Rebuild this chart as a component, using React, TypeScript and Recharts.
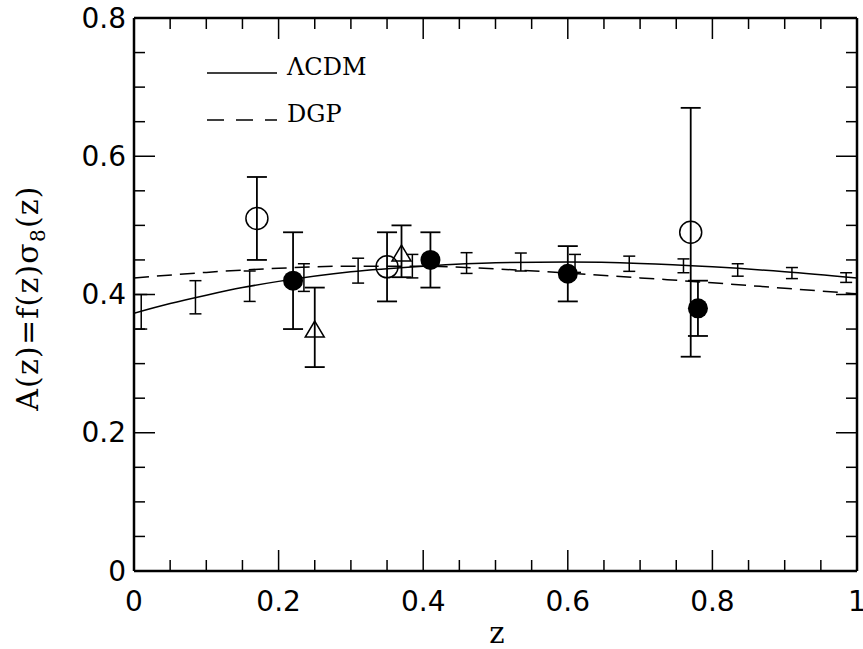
import React from 'react'
import { ComposedChart, Line, Scatter, ErrorBar, XAxis, YAxis } from 'recharts'

// 刻度
const xTicks = [0, 0.05, 0.1, 0.15, 0.2, 0.25, 0.3, 0.35, 0.4, 0.45, 0.5, 0.55, 0.6, 0.65, 0.7, 0.75, 0.8, 0.85, 0.9, 0.95, 1]
const yTicks = [0, 0.05, 0.1, 0.15, 0.2, 0.25, 0.3, 0.35, 0.4, 0.45, 0.5, 0.55, 0.6, 0.65, 0.7, 0.75, 0.8]

// model curves
const lcdmZ = [0, 0.05, 0.1, 0.15, 0.2, 0.3, 0.4, 0.5, 0.6, 0.7, 0.8, 0.9, 1.0]
const lcdmA = [0.373, 0.387, 0.399, 0.41, 0.419, 0.433, 0.441, 0.446, 0.447, 0.445, 0.44, 0.433, 0.424]
const dgpZ = [0, 0.1, 0.2, 0.3, 0.4, 0.5, 0.6, 0.7, 0.8, 0.9, 1.0]
const dgpA = [0.424, 0.432, 0.438, 0.441, 0.441, 0.437, 0.431, 0.424, 0.417, 0.409, 0.401]

// filled circles
const filledZ = [0.22, 0.41, 0.6, 0.78]
const filledA = [0.42, 0.45, 0.43, 0.38]
const filledLo = [0.35, 0.41, 0.39, 0.34]
const filledHi = [0.49, 0.49, 0.47, 0.42]

// open circles
const openZ = [0.17, 0.35, 0.77]
const openA = [0.51, 0.44, 0.49]
const openLo = [0.45, 0.39, 0.31]
const openHi = [0.57, 0.49, 0.67]

// triangles
const triZ = [0.25, 0.37]
const triA = [0.35, 0.46]
const triLo = [0.295, 0.425]
const triHi = [0.41, 0.5]

// forecast error bars along ΛCDM
const fcZ = [0.01, 0.085, 0.16, 0.235, 0.31, 0.385, 0.46, 0.535, 0.61, 0.685, 0.76, 0.835, 0.91, 0.985]
const fcA = [0.375, 0.396, 0.412, 0.4245, 0.4345, 0.441, 0.4455, 0.447, 0.445, 0.4445, 0.4415, 0.4355, 0.431, 0.4245]
const fcErr = [0.025, 0.024, 0.022, 0.02, 0.018, 0.017, 0.015, 0.013, 0.013, 0.011, 0.01, 0.009, 0.008, 0.007]

// legend
const legendNames = ['ΛCDM', 'DGP']
const legendDash = [undefined, '17 12']

const curve = (z: number[], a: number[]) => z.map((v, i) => ({ z: v, a: a[i] }))
const pts = (z: number[], a: number[], lo: number[], hi: number[]) =>
  z.map((v, i) => ({ z: v, a: a[i], err: [a[i] - lo[i], hi[i] - a[i]] }))

const lcdm = curve(lcdmZ, lcdmA)
const dgp = curve(dgpZ, dgpA)
const filled = pts(filledZ, filledA, filledLo, filledHi)
const open = pts(openZ, openA, openLo, openHi)
const tri = pts(triZ, triA, triLo, triHi)
const forecast = fcZ.map((v, i) => ({ z: v, a: fcA[i], err: fcErr[i] }))

const SANS = '"DejaVu Sans", sans-serif'
const SERIF = '"DejaVu Serif", serif'

const isMajor = (v: number) => Math.abs(v * 5 - Math.round(v * 5)) < 1e-6
const fmt = (v: number) => (v === 0 ? '0' : v === 1 ? '1' : v.toFixed(1))

const BottomTick = ({ x, y, payload }: any) => {
  const major = isMajor(payload.value)
  return (
    <g>
      <line x1={x} x2={x} y1={y} y2={y - (major ? 21 : 11)} stroke="#000" strokeWidth={1.5} />
      {major && (
        <text x={x} y={y + 40} textAnchor="middle" fontFamily={SANS} fontSize={28} fill="#000">
          {fmt(payload.value)}
        </text>
      )}
    </g>
  )
}

const TopTick = ({ x, y, payload }: any) => {
  const major = isMajor(payload.value)
  return <line x1={x} x2={x} y1={y} y2={y + (major ? 21 : 11)} stroke="#000" strokeWidth={1.5} />
}

const LeftTick = ({ x, y, payload }: any) => {
  const major = isMajor(payload.value)
  return (
    <g>
      <line x1={x} x2={x + (major ? 21 : 11)} y1={y} y2={y} stroke="#000" strokeWidth={1.5} />
      {major && (
        <text x={x - 8} y={y} textAnchor="end" dominantBaseline="central" fontFamily={SANS} fontSize={28} fill="#000">
          {fmt(payload.value)}
        </text>
      )}
    </g>
  )
}

const RightTick = ({ x, y, payload }: any) => {
  const major = isMajor(payload.value)
  return <line x1={x} x2={x - (major ? 21 : 11)} y1={y} y2={y} stroke="#000" strokeWidth={1.5} />
}

const OpenDot = ({ cx, cy }: any) => <circle cx={cx} cy={cy} r={11} fill="none" stroke="#000" strokeWidth={1.5} />
const FilledDot = ({ cx, cy }: any) => <circle cx={cx} cy={cy} r={10} fill="#000" />
const Triangle = ({ cx, cy }: any) => (
  <path d={`M${cx},${cy - 8}L${cx + 9.5},${cy + 8}L${cx - 9.5},${cy + 8}Z`} fill="none" stroke="#000" strokeWidth={1.5} />
)
const NoDot = () => <g />

const axisLine = { stroke: '#000', strokeWidth: 2.5 }

export default function App() {
  return (
    <div style={{ position: 'absolute', left: 0, top: 0, background: '#fff' }}>
      <ComposedChart width={863} height={649} margin={{ top: 17, right: 5, bottom: 77, left: 133 }}>
        <XAxis xAxisId="b" dataKey="z" type="number" domain={[0, 1]} ticks={xTicks} interval={0}
          height={1} tickSize={0} tickMargin={0} tickLine={false} axisLine={axisLine} tick={BottomTick} allowDataOverflow />
        <XAxis xAxisId="t" orientation="top" dataKey="z" type="number" domain={[0, 1]} ticks={xTicks} interval={0}
          height={1} tickSize={0} tickMargin={0} tickLine={false} axisLine={axisLine} tick={TopTick} allowDataOverflow />
        <YAxis yAxisId="l" dataKey="a" type="number" domain={[0, 0.8]} ticks={yTicks} interval={0}
          width={1} tickSize={0} tickMargin={0} tickLine={false} axisLine={axisLine} tick={LeftTick} allowDataOverflow />
        <YAxis yAxisId="r" orientation="right" dataKey="a" type="number" domain={[0, 0.8]} ticks={yTicks} interval={0}
          width={1} tickSize={0} tickMargin={0} tickLine={false} axisLine={axisLine} tick={RightTick} allowDataOverflow />

        <Line xAxisId="b" yAxisId="l" data={lcdm} dataKey="a" name="ΛCDM" type="monotone" stroke="#000"
          strokeWidth={1.5} dot={false} isAnimationActive={false} />
        <Line xAxisId="b" yAxisId="l" data={dgp} dataKey="a" name="DGP" type="monotone" stroke="#000"
          strokeWidth={1.5} strokeDasharray="15 8" dot={false} isAnimationActive={false} />

        <Scatter xAxisId="b" yAxisId="l" data={forecast} dataKey="a" shape={NoDot} isAnimationActive={false}>
          <ErrorBar dataKey="err" direction="y" width={6} stroke="#000" strokeWidth={1.5} />
        </Scatter>
        <Scatter xAxisId="b" yAxisId="l" data={open} dataKey="a" shape={OpenDot} isAnimationActive={false}>
          <ErrorBar dataKey="err" direction="y" width={10} stroke="#000" strokeWidth={1.8} />
        </Scatter>
        <Scatter xAxisId="b" yAxisId="l" data={tri} dataKey="a" shape={Triangle} isAnimationActive={false}>
          <ErrorBar dataKey="err" direction="y" width={10} stroke="#000" strokeWidth={1.8} />
        </Scatter>
        <Scatter xAxisId="b" yAxisId="l" data={filled} dataKey="a" shape={FilledDot} isAnimationActive={false}>
          <ErrorBar dataKey="err" direction="y" width={10} stroke="#000" strokeWidth={1.8} />
        </Scatter>

        {/* legend */}
        {legendNames.map((name, i) => {
          const y = 73 + i * 47
          return (
            <g key={name}>
              <line x1={207} x2={277} y1={y} y2={y} stroke="#000" strokeWidth={1.5} strokeDasharray={legendDash[i]} />
              <text x={287} y={y + 2} fontFamily={SERIF} fontSize={24} fill="#000">{name}</text>
            </g>
          )
        })}

        <text x={497} y={643} textAnchor="middle" fontFamily={SERIF} fontSize={29} fill="#000">z</text>
        <text x={0} y={0} transform="translate(38,298) rotate(-90)" textAnchor="middle" fontFamily={SERIF}
          fontSize={30} letterSpacing={1.2} fill="#000">
          A(z)=f(z)σ<tspan fontSize={20} dy={7}>8</tspan><tspan dy={-7}>(z)</tspan>
        </text>
      </ComposedChart>
    </div>
  )
}
